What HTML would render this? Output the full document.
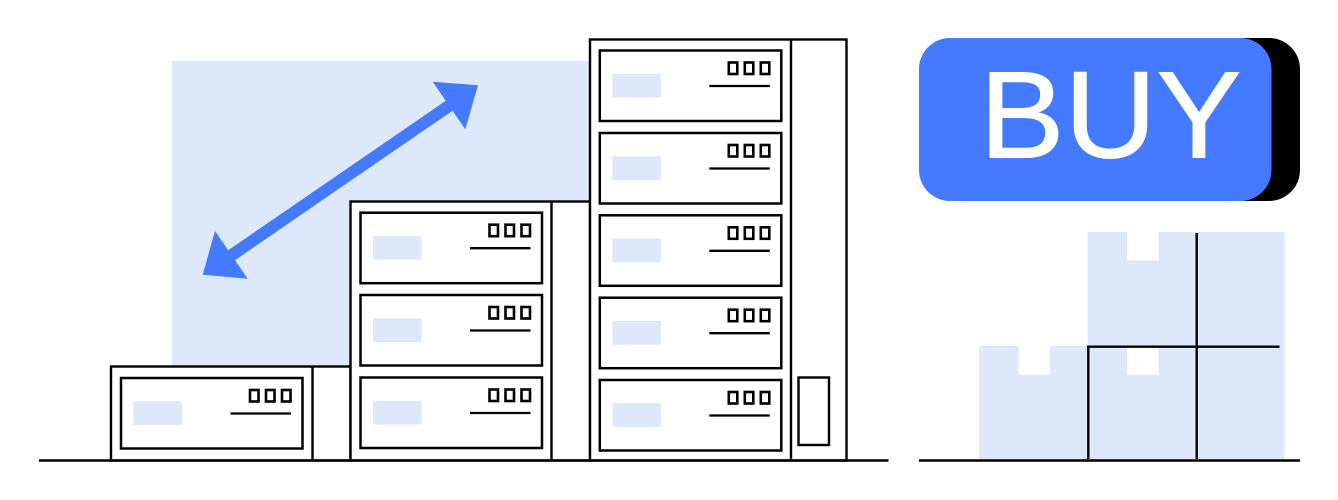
<!DOCTYPE html>
<html>
<head>
<meta charset="utf-8">
<style>
html,body{margin:0;padding:0;background:#fff;width:1338px;height:500px;overflow:hidden}
svg{display:block}
</style>
</head>
<body>
<svg width="1338" height="500" viewBox="0 0 1338 500" xmlns="http://www.w3.org/2000/svg">
<defs>
<g id="d">
<rect x="0" y="0" width="181.5" height="70.5" fill="#fff" stroke="#000" stroke-width="2.5"/>
<rect x="12.5" y="23.3" width="48.5" height="23.7" fill="#dde8fa"/>
<rect x="129" y="12" width="8.5" height="11.5" fill="none" stroke="#000" stroke-width="2.6"/>
<rect x="145" y="12" width="8.5" height="11.5" fill="none" stroke="#000" stroke-width="2.6"/>
<rect x="161" y="12" width="8.5" height="11.5" fill="none" stroke="#000" stroke-width="2.6"/>
<line x1="109.5" y1="35.5" x2="170" y2="35.5" stroke="#000" stroke-width="2.3"/>
</g>
</defs>

<rect x="172" y="61" width="418" height="305.5" fill="#dde8fa"/>

<polygon points="432.7,81.7 478,85.3 465.3,129.3" fill="#437aff"/>
<polygon points="215,231 202.7,274.7 247.7,278.7" fill="#437aff"/>
<line x1="451" y1="104.5" x2="229" y2="257" stroke="#437aff" stroke-width="12"/>

<rect x="111" y="366.5" width="239.5" height="94" fill="#fff" stroke="#000" stroke-width="2.4"/>
<line x1="312.5" y1="366.5" x2="312.5" y2="460.5" stroke="#000" stroke-width="2.4"/>
<use href="#d" x="121" y="378"/>

<rect x="350.5" y="201.5" width="239.5" height="259" fill="#fff" stroke="#000" stroke-width="2.4"/>
<line x1="551.5" y1="201.5" x2="551.5" y2="460.5" stroke="#000" stroke-width="2.4"/>
<use href="#d" x="360.5" y="212.7"/>
<use href="#d" x="360.5" y="295"/>
<use href="#d" x="360.5" y="377.5"/>

<rect x="590" y="39.5" width="256.5" height="421" fill="#fff" stroke="#000" stroke-width="2.4"/>
<line x1="791" y1="39.5" x2="791" y2="460.5" stroke="#000" stroke-width="2.4"/>
<use href="#d" x="599.8" y="50.5"/>
<use href="#d" x="599.8" y="133"/>
<use href="#d" x="599.8" y="215.3"/>
<use href="#d" x="599.8" y="297.7"/>
<use href="#d" x="599.8" y="380"/>
<rect x="798.5" y="377.5" width="30.5" height="67.5" fill="#fff" stroke="#000" stroke-width="2.4"/>

<line x1="39" y1="460.5" x2="888.5" y2="460.5" stroke="#000" stroke-width="2.4"/>

<rect x="1200" y="38" width="100" height="163" rx="31" ry="31" fill="#000"/>
<rect x="919" y="38" width="352.5" height="163" rx="31" ry="31" fill="#437aff"/>
<text x="979.5" y="157.5" font-family="'Liberation Sans',sans-serif" font-size="123.5" fill="#fff" stroke="#fff" stroke-width="1" textLength="262" lengthAdjust="spacingAndGlyphs">BUY</text>

<polygon points="979,346 1018.5,346 1018.5,374.7 1050,374.7 1050,346 1088,346 1088,460 979,460" fill="#dde8fa"/>
<polygon points="1087.7,232 1127,232 1127,260.5 1158.5,260.5 1158.5,232 1284.5,232 1284.5,460 1087.7,460" fill="#dde8fa"/>
<rect x="1127" y="347" width="31.5" height="27.7" fill="#fff"/>
<line x1="1088.3" y1="346.7" x2="1088.3" y2="459" stroke="#000" stroke-width="2.4"/>
<line x1="1196.7" y1="233" x2="1196.7" y2="459" stroke="#000" stroke-width="2.4"/>
<line x1="1087.1" y1="346.7" x2="1279.5" y2="346.7" stroke="#000" stroke-width="2.4"/>
<line x1="919" y1="460.5" x2="1300" y2="460.5" stroke="#000" stroke-width="2.4"/>
</svg>
</body>
</html>
